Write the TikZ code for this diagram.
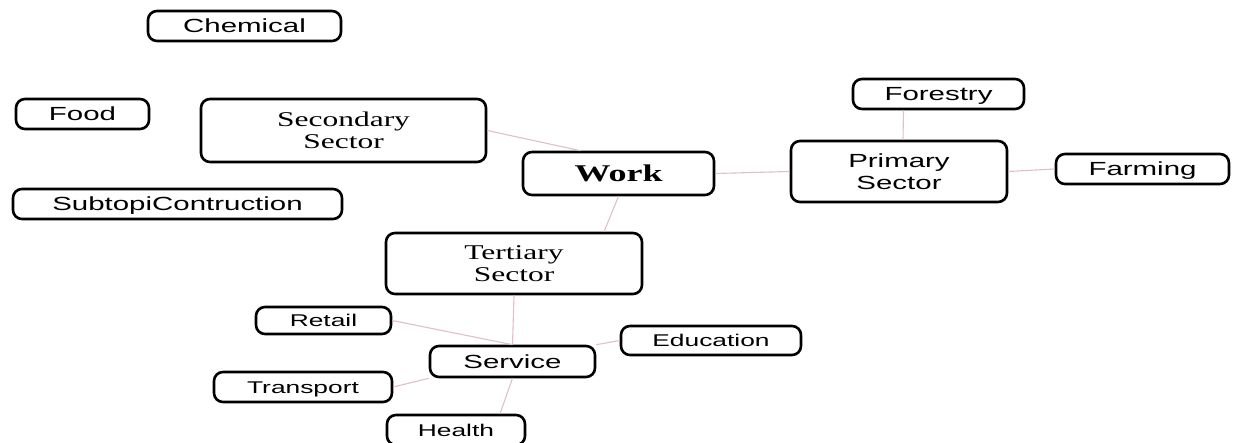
\documentclass[tikz,border=0pt]{standalone}
\usepackage{fontspec}
\usetikzlibrary{calc}
\newfontfamily\boxsans[FakeStretch=1.55]{Liberation Sans}
\newfontfamily\boxserif[FakeStretch=1.5]{Liberation Serif}
\definecolor{linkpink}{RGB}{222,192,198}

\tikzstyle{topic}=[draw=black,line width=2.6pt,rounded corners=9pt,inner sep=0pt,align=center]
\tikzstyle{bigsub}=[topic,font=\boxsans\fontsize{19}{22}\selectfont,text height=17.6pt,text depth=4pt]
\tikzstyle{smallsub}=[topic,font=\boxsans\fontsize{17}{20}\selectfont,text height=15.7pt,text depth=3.5pt]
\tikzstyle{sector}=[topic,font=\boxserif\fontsize{21}{22}\selectfont]
\tikzstyle{link}=[draw=linkpink,line width=1.1pt]

\begin{document}
\begin{tikzpicture}[x=1pt,y=-1pt]
  \useasboundingbox (0,0) rectangle (1236,443);
  % central topic
  \node (work) [topic,font=\boxserif\bfseries\fontsize{24}{26}\selectfont,
    minimum width=191pt,minimum height=43pt] at (618.5,173.5) {Work};
  % sectors
  \node (sec) [sector,minimum width=285pt,minimum height=63pt] at (343.5,130.5) {Secondary\\Sector};
  \node (pri) [sector,font=\boxsans\fontsize{19}{22}\selectfont,
    minimum width=216pt,minimum height=61pt] at (899,171.5) {Primary\\Sector};
  \node (ter) [sector,minimum width=256pt,minimum height=61pt] at (514,263.5) {Tertiary\\Sector};
  % secondary
  \node (chem) [bigsub,minimum width=193pt,minimum height=30pt] at (244.5,26) {Chemical};
  \node (food) [bigsub,minimum width=133pt,minimum height=30pt] at (82.5,114) {Food};
  \node (subt) [bigsub,minimum width=329pt,minimum height=30pt] at (177.5,204) {SubtopiContruction};
  % primary
  \node (fore) [bigsub,minimum width=171pt,minimum height=30pt] at (938.5,94) {Forestry};
  \node (farm) [bigsub,minimum width=173pt,minimum height=30pt] at (1142.5,169) {Farming};
  % tertiary
  \node (ser) [bigsub,minimum width=165pt,minimum height=31pt] at (512.5,361.5) {Service};
  \node (ret) [smallsub,minimum width=135pt,minimum height=27pt] at (323.5,320.5) {Retail};
  \node (edu) [smallsub,minimum width=180pt,minimum height=29pt] at (711,340.5) {Education};
  \node (tra) [smallsub,minimum width=178pt,minimum height=30pt] at (303,387) {Transport};
  \node (hea) [smallsub,minimum width=138pt,minimum height=30pt] at (456,430) {Health};

  \path[link]
  (sec.east) edge ($(work.north)+(-38,0)$)
  (work.south) edge ($(ter.north)+(90,0)$)
  (work.east) edge (pri.west)
  ($(pri.north)+(4,0)$) edge ($(fore.south)+(-35,0)$)
  (pri.east) edge (farm.west)
  (ter.south) edge (ser.north);
  \path[link]
  (ret.east) edge (ser.north)
  (ser.north east) edge (edu.west)
  (tra.east) edge (ser.south west)
  (ser.south) edge ($(hea.north)+(44,0)$);
\end{tikzpicture}
\end{document}
